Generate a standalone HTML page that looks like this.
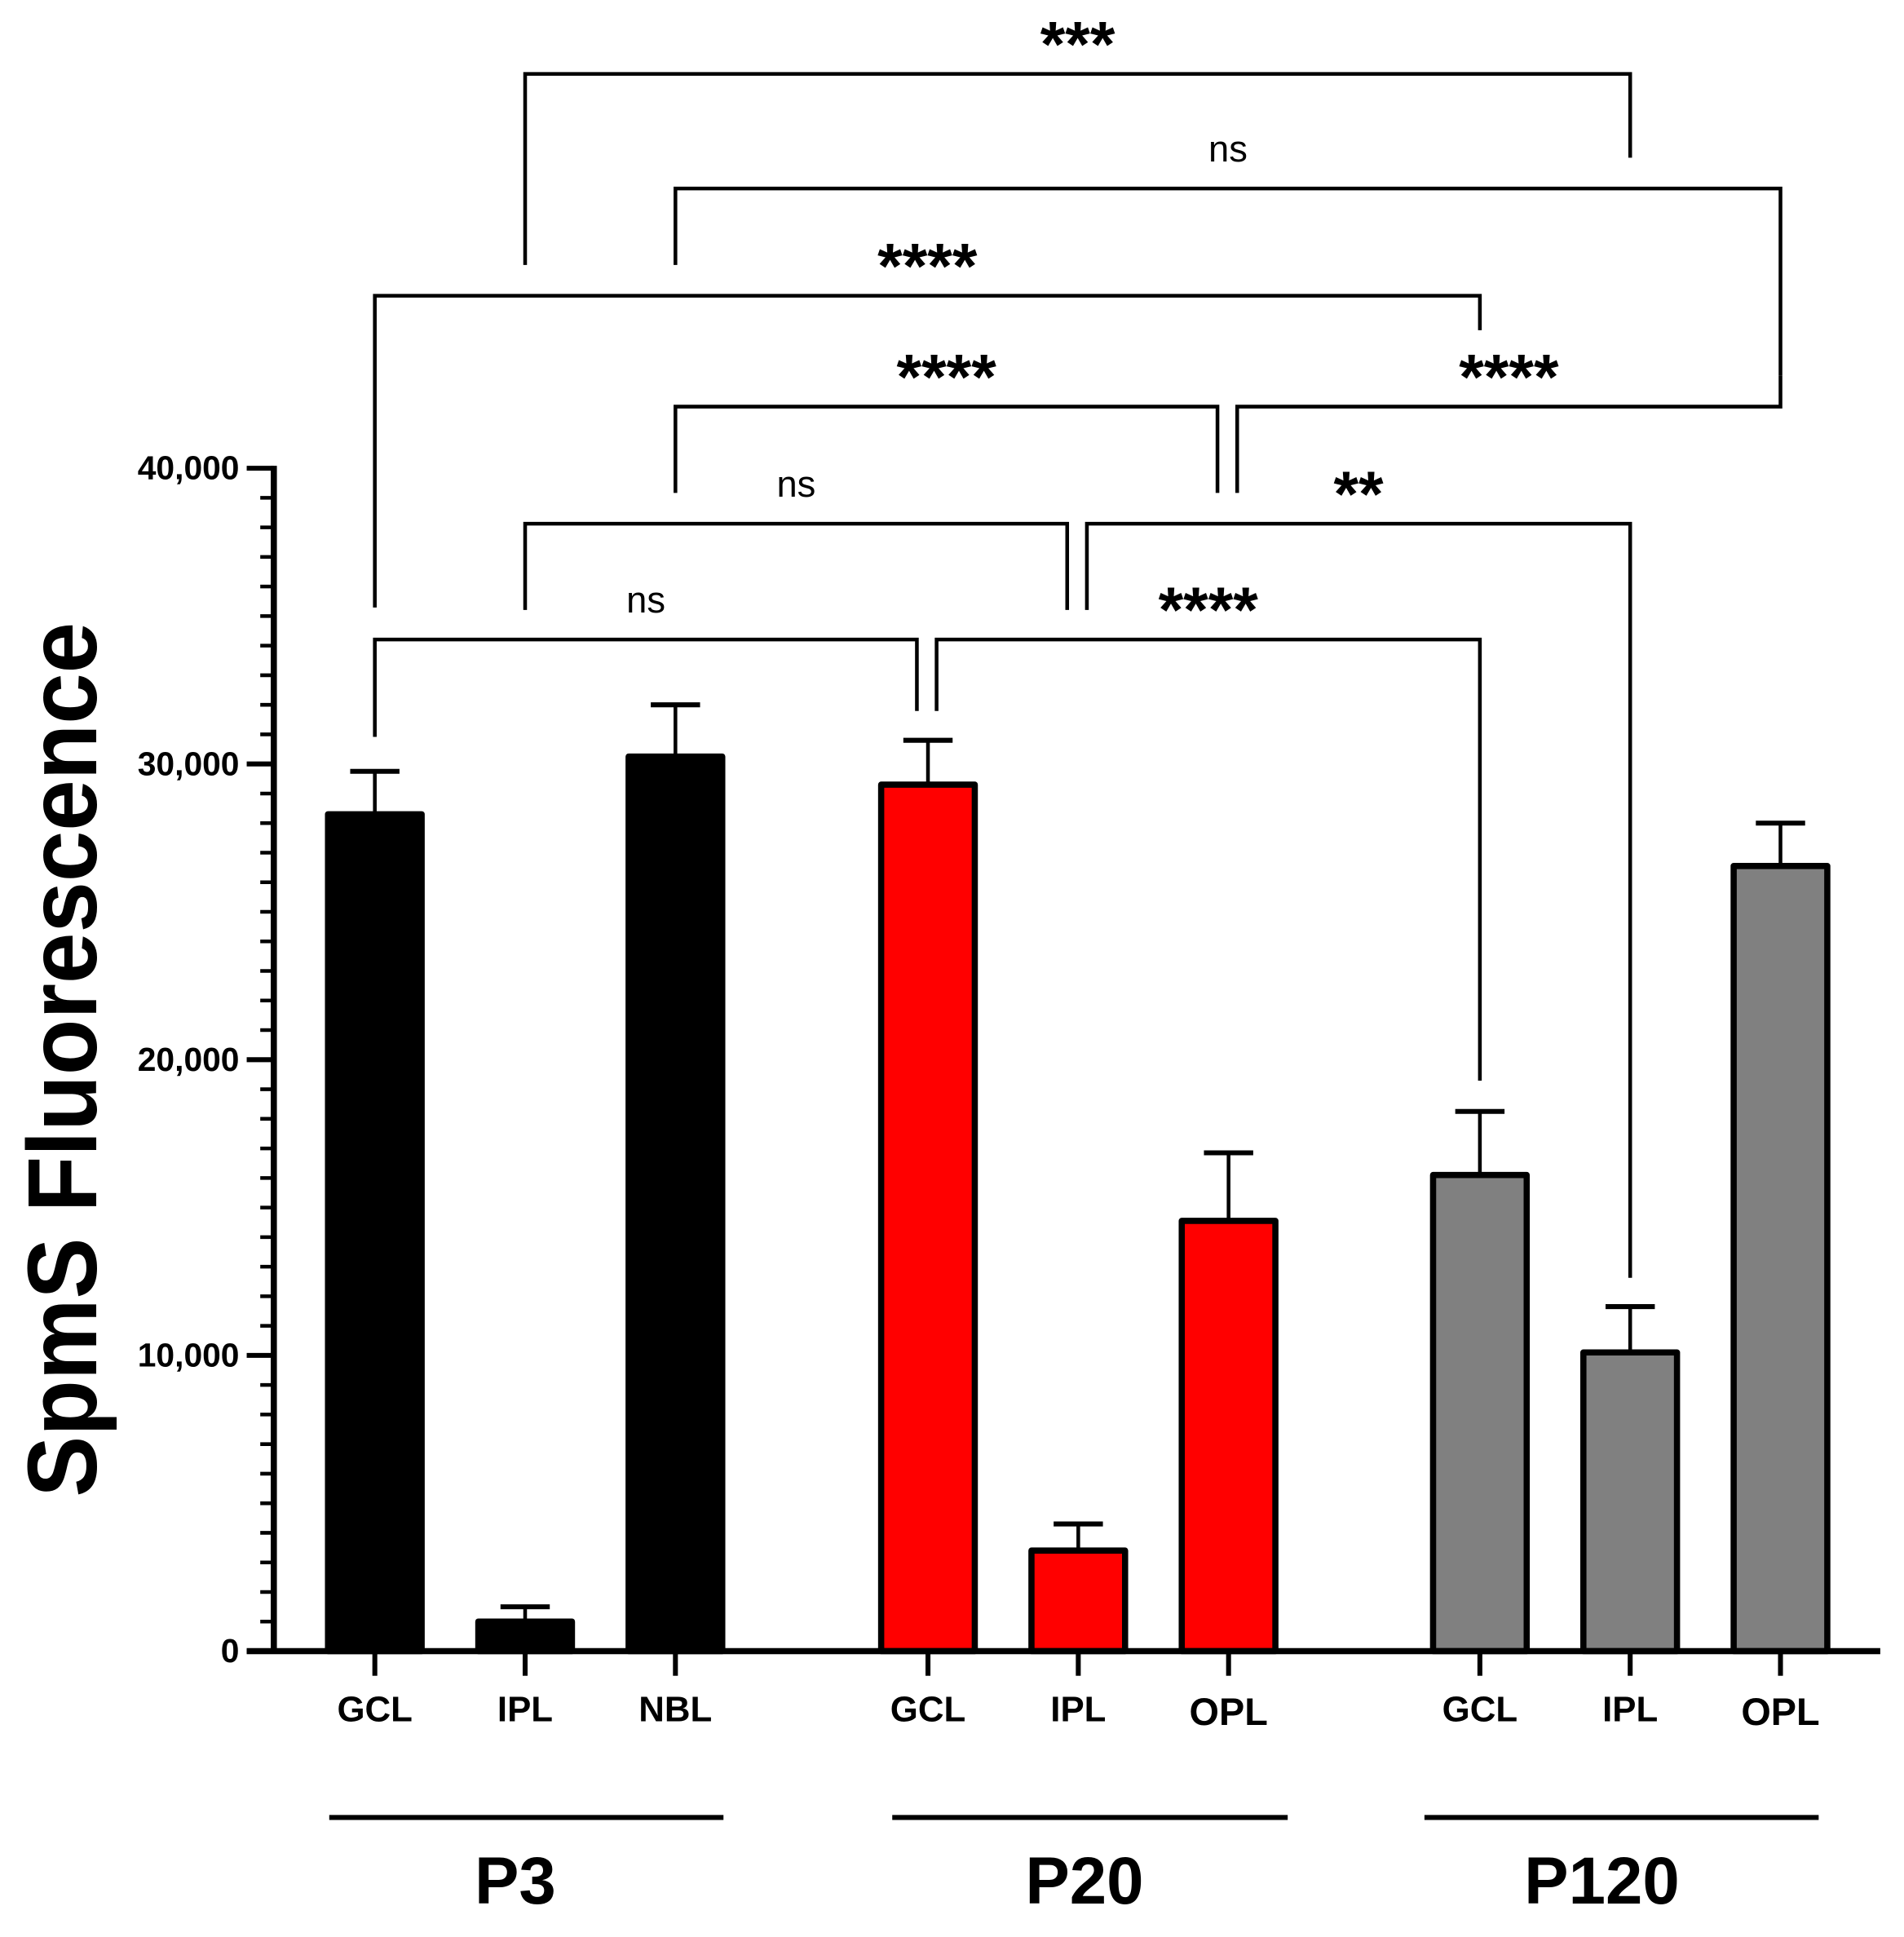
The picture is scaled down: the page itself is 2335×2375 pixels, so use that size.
<!DOCTYPE html>
<html><head><meta charset="utf-8"><style>
html,body{margin:0;padding:0;background:#fff}
svg{display:block}
text{font-family:"Liberation Sans",Arial,sans-serif}
</style></head><body>
<svg id="chart" width="2335" height="2375" viewBox="0 0 1545 1572" xmlns="http://www.w3.org/2000/svg">
<g id="g"></g>
</svg>
<script>
const categories = ["GCL","IPL","NBL","GCL","IPL","OPL","GCL","IPL","OPL"];
const groupOf = [0,0,0,1,1,1,2,2,2];
const groups = ["P3","P20","P120"];
const means = [28300,1000,30250,29300,3400,14550,16100,10100,26550];
const errs = [1450,500,1750,1500,900,2300,2150,1550,1450];
const yTicks = [0,10000,20000,30000,40000];
const yTickLabels = ["0","10,000","20,000","30,000","40,000"];
const brackets = [
 {a:1,b:7,label:"***",lvl:60,la:215,lb:128},
 {a:2,b:8,label:"ns",lvl:153,la:215,lb:305},
 {a:0,b:6,label:"****",lvl:240,la:493,lb:268},
 {a:2,b:5,label:"****",lvl:330,la:400,lb:400,ob:-9},
 {a:5,b:8,label:"****",lvl:330,la:400,lb:305,oa:7},
 {a:1,b:4,label:"ns",lvl:425,la:495,lb:495,ob:-9},
 {a:4,b:7,label:"**",lvl:425,la:495,lb:1037,oa:7},
 {a:0,b:3,label:"ns",lvl:519,la:598,lb:577,ob:-9},
 {a:3,b:6,label:"****",lvl:519,la:577,lb:877,oa:7}
];
const NS="http://www.w3.org/2000/svg";
const g=document.getElementById('g');
const y0=1340, yTop=380, yMax=40000;
function Y(v){return y0-(v/yMax)*(y0-yTop);}
const groupStart=[304,753,1201], step=122;
function X(i){return groupStart[groupOf[i]]+step*(i-groupOf[i]*3);}
const fills=["#000000","#ff0000","#808080"];
function el(t,a,p){const e=document.createElementNS(NS,t);for(const k in a)e.setAttribute(k,a[k]);(p||g).appendChild(e);return e;}
let ax=el('line',{x1:222,y1:yTop-2,x2:222,y2:y0+2,stroke:'#000','stroke-width':5});


for(let v=0;v<=yMax;v+=1000){
 const major=v%10000===0;
 const t=el('line',{x1:major?200:211,y1:Y(v),x2:222,y2:Y(v),stroke:'#000','stroke-width':major?4:3});
 
 
}
yTicks.forEach((v,i)=>{
 const t=el('text',{x:194,y:Y(v)+9,'text-anchor':'end','font-size':27,'font-weight':'bold'});
 t.textContent=yTickLabels[i];
 
 
});
const yt=el('text',{x:0,y:0,transform:'translate(78,860) rotate(-90)','text-anchor':'middle','font-size':80,'font-weight':'bold',textLength:710,lengthAdjust:'spacingAndGlyphs'});
yt.textContent="SpmS Fluorescence";


categories.forEach((c,i)=>{
 const x=X(i), w=76, top=Y(means[i]), et=Y(means[i]+errs[i]);
 const eb=el('line',{x1:x,y1:top,x2:x,y2:et,stroke:'#000','stroke-width':3});
 
 
 const cap=el('line',{x1:x-20,y1:et,x2:x+20,y2:et,stroke:'#000','stroke-width':4});
 
 
 const r=el('rect',{x:x-w/2,y:top,width:w,height:y0-top,fill:fills[groupOf[i]],stroke:'#000','stroke-width':5,'stroke-linejoin':'round'});
 
 
 const tk=el('line',{x1:x,y1:y0,x2:x,y2:1360,stroke:'#000','stroke-width':4});
 
 
 const lb=el('text',{x:x,y:c==="OPL"?1400:1397,'text-anchor':'middle','font-size':c==="OPL"?31:29,'font-weight':'bold'});
 lb.textContent=c;
 
 
});
const xa=el('line',{x1:200,y1:y0,x2:1526,y2:y0,stroke:'#000','stroke-width':5});


const gl=[[267,587,418],[724,1045,880],[1156,1476,1300]];
groups.forEach((n,k)=>{
 const l=el('line',{x1:gl[k][0],y1:1475,x2:gl[k][1],y2:1475,stroke:'#000','stroke-width':4});
 
 
 const t=el('text',{x:gl[k][2],y:1545,'text-anchor':'middle','font-size':54,'font-weight':'bold'});
 t.textContent=n;
 
 
});
brackets.forEach(b=>{
 const xa_=X(b.a)+(b.oa||0), xb=X(b.b)+(b.ob||0);
 const p=el('path',{d:`M${xa_},${b.la} V${b.lvl} H${xb} V${b.lb}`,fill:'none',stroke:'#000','stroke-width':3});
 
 
 const star=b.label!=="ns";
 const t=el('text',{x:(xa_+xb)/2,y:star?b.lvl-6:b.lvl-22,'text-anchor':'middle','font-size':star?52:30,'font-weight':star?'bold':'normal'});
 t.textContent=b.label;
 
 
});
</script>
</body></html>
